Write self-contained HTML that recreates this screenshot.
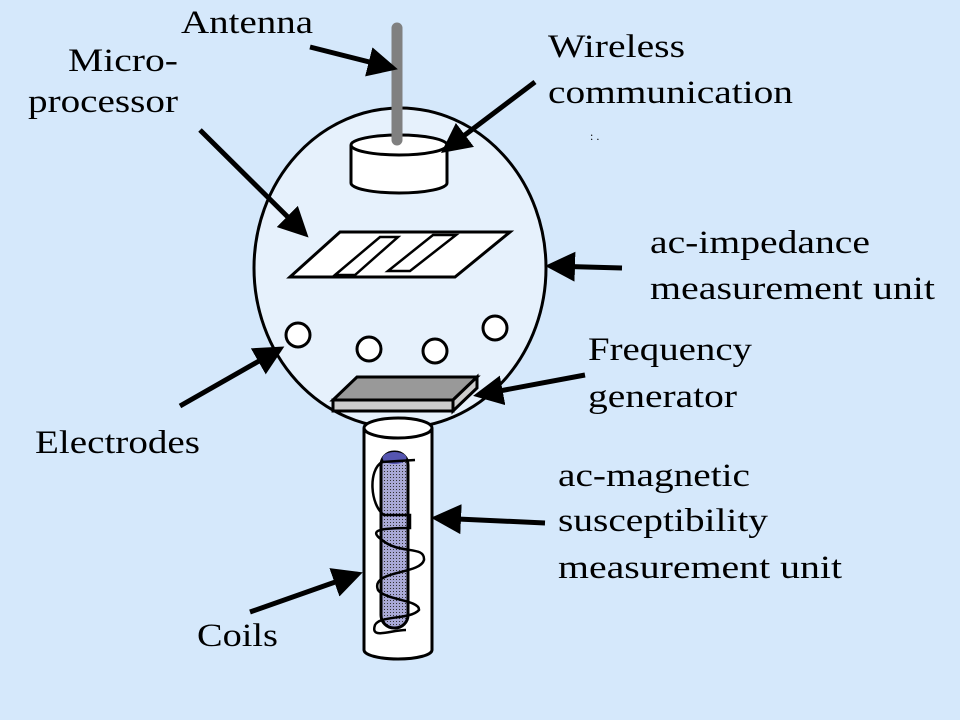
<!DOCTYPE html>
<html><head><meta charset="utf-8"><style>
html,body{margin:0;padding:0;background:#d5e8fb;}
svg{display:block}
text{font-family:"Liberation Serif",serif;font-size:33px;fill:#000}
</style></head><body>
<svg width="960" height="720" viewBox="0 0 960 720" xmlns="http://www.w3.org/2000/svg">
<defs>
<marker id="ah" markerWidth="6" markerHeight="6" refX="5" refY="3" orient="auto" markerUnits="strokeWidth">
<path d="M0,0 L6,3 L0,6 z" fill="#000"/></marker>
<pattern id="dots" width="3" height="3" patternUnits="userSpaceOnUse"><rect width="3" height="3" fill="#a9a9d6"/><rect width="1" height="1" fill="#333"/></pattern>
</defs>
<rect width="960" height="720" fill="#d5e8fb"/>
<ellipse cx="400" cy="268" rx="146" ry="160" fill="#e6f1fc" stroke="#000" stroke-width="3"/>
<path d="M351,145 L351,183 A48,10 0 0 0 447,183 L447,145" fill="#fff" stroke="#000" stroke-width="3"/>
<ellipse cx="399" cy="145" rx="48" ry="10" fill="#fff" stroke="#000" stroke-width="3"/>
<line x1="397" y1="28" x2="397" y2="140" stroke="#808080" stroke-width="11" stroke-linecap="round"/>
<polygon points="290,277 340,232 510,232 455,277" fill="#fff" stroke="#000" stroke-width="3"/>
<polygon points="335,275 380,237 398,237 355,275" fill="#fff" stroke="#000" stroke-width="2.5"/>
<polygon points="388,271 433,235 456,235 410,271" fill="#fff" stroke="#000" stroke-width="2.5"/>
<circle cx="298" cy="335" r="12" fill="#fff" stroke="#000" stroke-width="3"/>
<circle cx="369" cy="349" r="12" fill="#fff" stroke="#000" stroke-width="3"/>
<circle cx="435" cy="351" r="12" fill="#fff" stroke="#000" stroke-width="3"/>
<circle cx="495" cy="328" r="12" fill="#fff" stroke="#000" stroke-width="3"/>
<path d="M364,428 L364,650 A34,9 0 0 0 432,650 L432,428" fill="#fff" stroke="#000" stroke-width="3"/>
<ellipse cx="398" cy="428" rx="34" ry="10" fill="#fff" stroke="#000" stroke-width="3"/>
<polygon points="333,400 357,377 477,377 453,400" fill="#999" stroke="#000" stroke-width="3"/>
<polygon points="333,400 453,400 453,411 333,411" fill="#ccc" stroke="#000" stroke-width="3"/>
<polygon points="453,400 477,377 477,388 453,411" fill="#ccc" stroke="#000" stroke-width="3"/>
<rect x="381" y="452" width="27" height="176" rx="13" fill="url(#dots)" stroke="#000" stroke-width="3"/>
<ellipse cx="394.5" cy="458" rx="12" ry="6" fill="#5555b0"/>
<path d="M415,460 L382,462 C368,470 370,505 384,515 L410,515 L410,528 C380,528 368,530 382,540 C400,555 425,545 424,560 C420,575 370,570 378,590 C385,600 420,600 419,610 C410,620 380,615 375,625 C370,640 390,630 406,630" fill="none" stroke="#000" stroke-width="2.5"/>
<g stroke="#000" stroke-width="5" marker-end="url(#ah)" fill="none">
<line x1="310" y1="47" x2="393" y2="68"/>
<line x1="535" y1="82" x2="445" y2="150"/>
<line x1="200" y1="130" x2="305" y2="234"/>
<line x1="622" y1="268" x2="550" y2="266"/>
<line x1="180" y1="406" x2="280" y2="349"/>
<line x1="585" y1="375" x2="478" y2="395"/>
<line x1="545" y1="523" x2="436" y2="518"/>
<line x1="250" y1="612" x2="358" y2="574"/>
</g>
<text x="181" y="33" textLength="132" lengthAdjust="spacingAndGlyphs">Antenna</text>
<text x="68" y="71" textLength="110" lengthAdjust="spacingAndGlyphs">Micro-</text>
<text x="28" y="112" textLength="150" lengthAdjust="spacingAndGlyphs">processor</text>
<text x="548" y="57" textLength="137" lengthAdjust="spacingAndGlyphs">Wireless</text>
<text x="548" y="103" textLength="245" lengthAdjust="spacingAndGlyphs">communication</text>
<text x="590" y="140" style="font-size:12px">: .</text>
<text x="650" y="253" textLength="220" lengthAdjust="spacingAndGlyphs">ac-impedance</text>
<text x="650" y="299" textLength="285" lengthAdjust="spacingAndGlyphs">measurement unit</text>
<text x="588" y="360" textLength="164" lengthAdjust="spacingAndGlyphs">Frequency</text>
<text x="588" y="407" textLength="149" lengthAdjust="spacingAndGlyphs">generator</text>
<text x="35" y="453" textLength="165" lengthAdjust="spacingAndGlyphs">Electrodes</text>
<text x="558" y="486" textLength="192" lengthAdjust="spacingAndGlyphs">ac-magnetic</text>
<text x="558" y="531" textLength="210" lengthAdjust="spacingAndGlyphs">susceptibility</text>
<text x="558" y="578" textLength="284" lengthAdjust="spacingAndGlyphs">measurement unit</text>
<text x="197" y="646" textLength="81" lengthAdjust="spacingAndGlyphs">Coils</text>
</svg>
</body></html>
